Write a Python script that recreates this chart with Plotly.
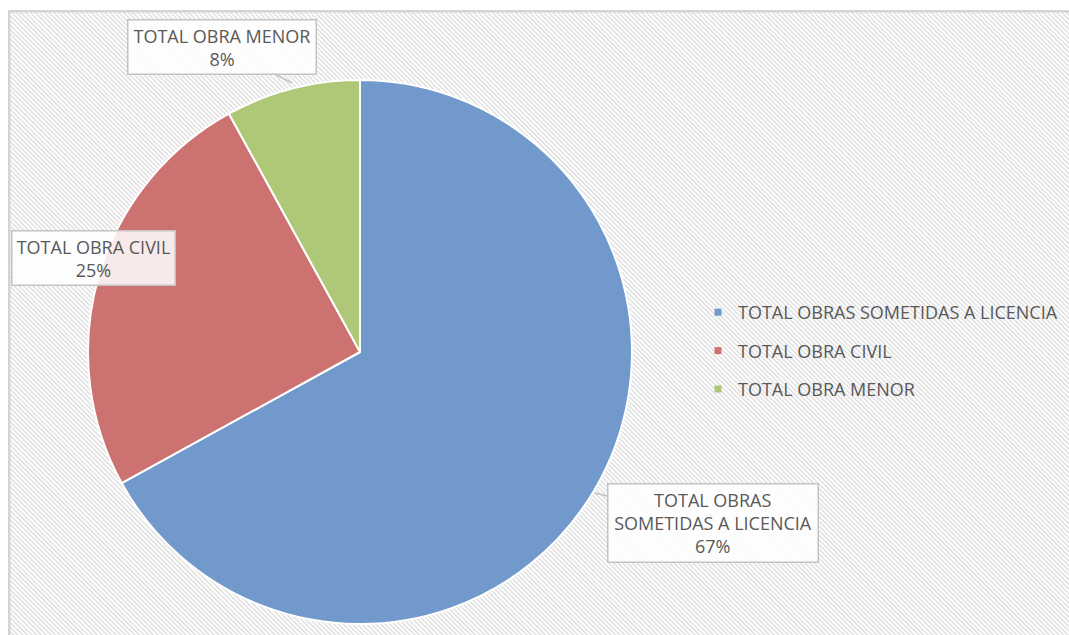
import base64

import plotly.graph_objects as go

# Data
categories = ["TOTAL OBRAS SOMETIDAS A LICENCIA", "TOTAL OBRA CIVIL", "TOTAL OBRA MENOR"]
values = [67, 25, 8]
callout_names = ["TOTAL OBRAS<br>SOMETIDAS A LICENCIA", "TOTAL OBRA CIVIL", "TOTAL OBRA MENOR"]

COLORS = ["#7199CC", "#CC7371", "#AEC878"]
TEXT = "#595959"
FONT = "Open Sans"
FS = 18

# body margin is removed in the page (post_script), so figure == window
W, H = 1069, 635


def px(x, y):
    """screen pixel position (as in the original picture) -> paper coords"""
    return x / W, 1 - y / H


# hatched chart-area background (Excel style), border only on top/left
# since the chart area runs off the right and bottom of the picture
BG_W, BG_H = 1200, 720
svg = (
    f"<svg xmlns='http://www.w3.org/2000/svg' width='{BG_W}' height='{BG_H}'>"
    "<defs><pattern id='p' width='3.3' height='3.3' patternUnits='userSpaceOnUse' "
    "patternTransform='rotate(-45)'>"
    "<rect width='3.3' height='3.3' fill='#ffffff'/>"
    "<rect width='1.5' height='3.3' fill='#e0e0e0'/></pattern></defs>"
    f"<rect x='0' y='0' width='{BG_W}' height='{BG_H}' fill='url(#p)'/>"
    f"<path d='M1.2 {BG_H} L1.2 1.2 L{BG_W} 1.2' fill='none' stroke='#d4d4d4' stroke-width='2.5'/>"
    "</svg>"
)
bg_src = "data:image/svg+xml;base64," + base64.b64encode(svg.encode()).decode()

fig = go.Figure()

dx0, dy1 = px(88, 80)
dx1, dy0 = px(632, 624)
fig.add_trace(go.Pie(
    labels=categories,
    values=values,
    sort=False,
    direction="clockwise",
    rotation=0,
    textinfo="none",
    hoverinfo="label+percent",
    marker=dict(colors=COLORS, line=dict(color="white", width=2)),
    domain=dict(x=[dx0, dx1], y=[dy0, dy1]),
    showlegend=False,
))

# legend entries (one group each so the rows can be spaced like the original)
for i, (name, col) in enumerate(zip(categories, COLORS)):
    fig.add_trace(go.Scatter(
        x=[None], y=[None],
        mode="markers",
        name=name,
        legendgroup=f"g{i}",
        marker=dict(symbol="square", size=7, color=col),
    ))

# callout labels
total = sum(values)
pct = [f"{round(v / total * 100)}%" for v in values]
callouts = [
    # (index, box centre px, tip px or None, box width px)
    (2, (222, 47), (292, 83), 181),
    (1, (93, 258), None, 156),
    (0, (713, 523), (595, 493), 203),
]
annotations = []
for idx, (cx, cy), tip, bw in callouts:
    ann = dict(
        text=f"{callout_names[idx]}<br>{pct[idx]}",
        xref="paper", yref="paper",
        font=dict(family=FONT, size=FS, color=TEXT),
        bgcolor="rgba(255,255,255,0.85)",
        bordercolor="#c4c4c4",
        borderwidth=1.5,
        borderpad=3,
        width=bw,
        align="center",
    )
    if tip is None:
        x, y = px(cx, cy)
        ann.update(x=x, y=y, showarrow=False, xanchor="center", yanchor="middle")
    else:
        x, y = px(*tip)
        ann.update(x=x, y=y, showarrow=True, arrowhead=0, arrowwidth=1.5,
                   arrowcolor="#c4c4c4", ax=cx - tip[0], ay=cy - tip[1])
    annotations.append(ann)

lx, ly = px(698, 294)
bx, by = px(8, 10)
fig.update_layout(
    width=W, height=H,
    margin=dict(l=0, r=0, t=0, b=0),
    paper_bgcolor="white",
    plot_bgcolor="rgba(0,0,0,0)",
    font=dict(family=FONT, color=TEXT),
    xaxis=dict(visible=False, range=[0, 1]),
    yaxis=dict(visible=False, range=[0, 1]),
    legend=dict(
        x=lx, y=ly, xanchor="left", yanchor="top",
        bgcolor="rgba(0,0,0,0)",
        font=dict(family=FONT, size=FS, color=TEXT),
        tracegroupgap=12,
        itemclick=False, itemdoubleclick=False,
    ),
    annotations=annotations,
    images=[dict(
        source=bg_src, xref="paper", yref="paper",
        x=bx, y=by, sizex=BG_W / W, sizey=BG_H / H,
        xanchor="left", yanchor="top", sizing="stretch", layer="below",
    )],
)

fig.write_html(
    "out.html",
    config={"displayModeBar": False},
    post_script="document.body.style.margin='0';document.body.style.overflow='hidden';",
)
